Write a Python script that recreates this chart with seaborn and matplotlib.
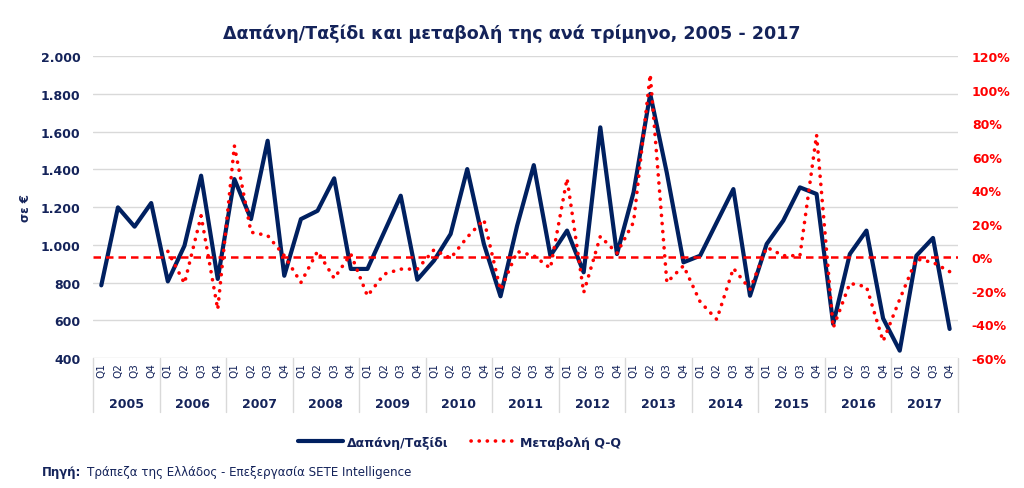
import numpy as np
import pandas as pd
import matplotlib
matplotlib.use("Agg")
import matplotlib.pyplot as plt
import matplotlib.transforms as mtransforms
from matplotlib.ticker import FuncFormatter
import seaborn as sns

# Δεδομένα (εκτίμηση από το γράφημα)
years = [str(y) for y in range(2005, 2018)]
quarters = ["Q1", "Q2", "Q3", "Q4"]

spend = [785, 1198, 1096, 1221,
         806, 995, 1366, 819,
         1348, 1136, 1551, 836,
         1136, 1180, 1352, 872,
         872, 1066, 1260, 815,
         916, 1057, 1401, 1004,
         727, 1101, 1422, 942,
         1075, 854, 1622, 951,
         1278, 1799, 1380, 907,
         942, 1119, 1295, 730,
         1004, 1128, 1304, 1269,
         580, 951, 1075, 610,
         439, 942, 1036, 554]

# μεταβολή σε %, 2005 χωρίς τιμή
change = [np.nan, np.nan, np.nan, np.nan,
          3.6, -15.5, 24.8, -31,
          66.5, 15, 13, 1,
          -15, 3.6, -12.5, 2,
          -23, -10, -7, -7,
          4.5, -0.5, 12, 22.5,
          -19.5, 3.5, 1, -6.5,
          47, -21, 12.5, 2.5,
          21, 109, -15, -5,
          -26.5, -37, -6.5, -19,
          6, 1, 1, 73,
          -42, -15.5, -17.5, -50,
          -25, -1, -3, -8.5]

df = pd.DataFrame({
    "idx": np.arange(len(spend)),
    "spend": spend,
    "change": np.array(change) / 100.0,
})

NAVY = "#002060"
TXT = "#14235A"
RED = "#FF0000"
GRID = "#D9D9D9"

sns.set_style("white")
plt.rcParams["font.family"] = ["DejaVu Sans"]

fig = plt.figure(figsize=(10.24, 4.89), dpi=100)
ax = fig.add_axes([0.0908, 0.2658, 0.8447, 0.6176])
ax2 = ax.twinx()

sns.lineplot(data=df, x="idx", y="spend", ax=ax, color=NAVY, linewidth=3,
             label="Δαπάνη/Ταξίδι", legend=False)
sns.lineplot(data=df.dropna(), x="idx", y="change", ax=ax2, color=RED, linewidth=2.6,
             linestyle=(0, (0.05, 2.2)), dash_capstyle="round",
             label="Μεταβολή Q-Q", legend=False)
h1 = ax.lines[0]
h2 = ax2.lines[0]
ax2.axhline(0, color=RED, linewidth=1.8, linestyle=(0, (3, 2)))

# αριστερός άξονας
ax.set_xlim(-0.5, len(spend) - 0.5)
ax.set_ylim(400, 2000)
ax.set_yticks(np.arange(400, 2001, 200))
ax.yaxis.set_major_formatter(FuncFormatter(lambda v, p: f"{int(v):,}".replace(",", ".")))
ax.grid(axis="y", color=GRID, linewidth=1)
ax.grid(axis="x", visible=False)
ax.tick_params(axis="y", length=0, pad=9, labelsize=9, labelcolor=TXT)
for t in ax.get_yticklabels():
    t.set_fontweight("bold")
ax.set_ylabel("σε €", fontsize=8.5, fontweight="bold", color=TXT, labelpad=6)
ax.set_xlabel("")

# δεξιός άξονας
ax2.set_ylim(-0.6, 1.2)
ax2.set_yticks(np.arange(-0.6, 1.21, 0.2))
ax2.yaxis.set_major_formatter(FuncFormatter(lambda v, p: f"{v * 100:.0f}%"))
ax2.tick_params(axis="y", length=0, pad=10, labelsize=9, labelcolor=RED)
for t in ax2.get_yticklabels():
    t.set_fontweight("bold")
ax2.set_ylabel("")

for a in (ax, ax2):
    for s in a.spines.values():
        s.set_visible(False)

# άξονας x σε δύο επίπεδα
ax.set_xticks(df["idx"])
ax.set_xticklabels(quarters * len(years), rotation=90, fontsize=7.5, color=TXT)
ax.tick_params(axis="x", length=0, pad=3)
trans = mtransforms.blended_transform_factory(ax.transData, ax.transAxes)
for b in np.arange(-0.5, len(spend), 4):
    ax.plot([b, b], [0, -0.18], transform=trans, color=GRID, linewidth=1, clip_on=False)
for i, y in enumerate(years):
    ax.text(i * 4 + 1.5, -0.152, y, transform=trans, ha="center", va="center",
            fontsize=9, fontweight="bold", color=TXT)

fig.suptitle("Δαπάνη/Ταξίδι και μεταβολή της ανά τρίμηνο, 2005 - 2017",
             x=0.5, y=0.95, fontsize=12.6, fontweight="bold", color=TXT)

leg = fig.legend([h1, h2], ["Δαπάνη/Ταξίδι", "Μεταβολή Q-Q"], loc="center",
                 bbox_to_anchor=(0.449, 0.094), ncol=2, frameon=False,
                 handlelength=3.6, columnspacing=1.8, handletextpad=0.3,
                 prop={"size": 9, "weight": "bold"})
for t in leg.get_texts():
    t.set_color(TXT)

fig.text(0.041, 0.033, "Πηγή:", fontsize=8.5, fontweight="bold", color=TXT, va="center")
fig.text(0.085, 0.033, "Τράπεζα της Ελλάδος - Επεξεργασία SETE Intelligence",
         fontsize=8.6, color=TXT, va="center")

fig.savefig("out.png", dpi=100)
